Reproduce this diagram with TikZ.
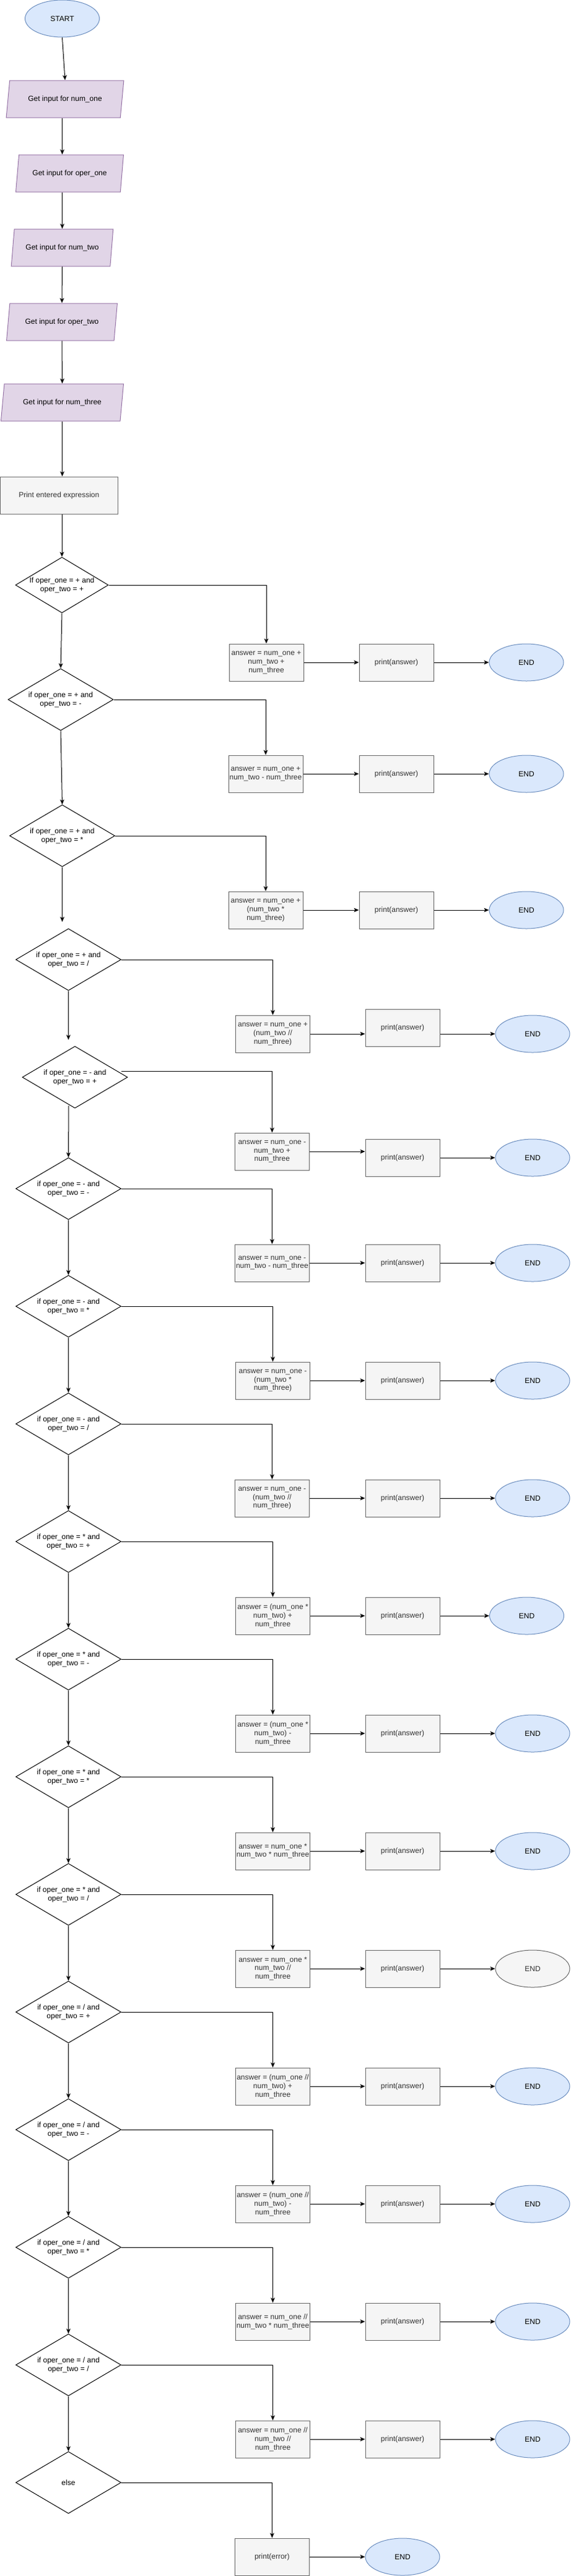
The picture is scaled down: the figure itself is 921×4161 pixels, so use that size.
\documentclass[tikz,border=0pt]{standalone}
\usepackage{fontspec}
\setmainfont{Liberation Sans}
\usetikzlibrary{shapes.geometric,arrows.meta}
\definecolor{bluefill}{HTML}{DAE8FC}
\definecolor{bluedraw}{HTML}{6C8EBF}
\definecolor{purpfill}{HTML}{E1D5E7}
\definecolor{purpdraw}{HTML}{9673A6}
\definecolor{greyfill}{HTML}{F5F5F5}
\definecolor{greydraw}{HTML}{666666}
\definecolor{greytext}{HTML}{333333}
\begin{document}
\begin{tikzpicture}[x=0.75pt,y=-0.75pt,line width=0.75pt,
  every node/.style={font=\fontsize{9}{10.4}\selectfont,align=center,inner sep=0pt},
  term/.style={ellipse,draw=bluedraw,fill=bluefill,minimum width=90pt,minimum height=45pt},
  termgrey/.style={ellipse,draw=greydraw,fill=greyfill,text=greytext,minimum width=90pt,minimum height=45pt},
  io/.style={trapezium,trapezium left angle=71.57,trapezium right angle=108.43,trapezium stretches=true,draw=purpdraw,fill=purpfill,minimum height=45pt},
  proc/.style={rectangle,draw=greydraw,fill=greyfill,text=greytext,minimum width=90pt,minimum height=45pt},
  dec/.style={diamond,draw=black,fill=white,aspect=1.7,minimum width=127.5pt,minimum height=75pt},
  arr/.style={draw=black,-{Stealth[length=6pt,width=5pt,inset=1.5pt]}}
]
\useasboundingbox (0,0) rectangle (921,4161);

% top sequence
\node[term] (start) at (100.5,30) {START};
\node[io,minimum width=142.5pt] (in1) at (105,160) {Get input for num\_one};
\node[io,minimum width=131.25pt] (in2) at (112.5,280) {Get input for oper\_one};
\node[io,minimum width=123.75pt] (in3) at (100.5,400) {Get input for num\_two};
\node[io,minimum width=135pt] (in4) at (100,520) {Get input for oper\_two};
\node[io,minimum width=149.25pt] (in5) at (100.5,650) {Get input for num\_three};
\node[proc,minimum width=142.5pt] (pe) at (95.3,800) {Print entered expression};

% decisions
\node[dec,minimum width=112.5pt,minimum height=67.5pt] (d1) at (100,945) {If oper\_one = + and\\oper\_two = +};
\node[dec] (d2) at (98,1130) {if oper\_one = + and\\oper\_two = -};
\node[dec] (d3) at (100.5,1350) {if oper\_one = + and\\oper\_two = *};
\node[dec] (d4) at (110.5,1550) {if oper\_one = + and\\oper\_two = /};
\node[dec] (d5) at (121,1740) {if oper\_one = - and\\oper\_two = +};
\node[dec] (d6) at (110.5,1920) {if oper\_one = - and\\oper\_two = -};
\node[dec] (d7) at (110.5,2110) {if oper\_one = - and\\oper\_two = *};
\node[dec] (d8) at (110.5,2300) {if oper\_one = - and\\oper\_two = /};
\node[dec] (d9) at (110.5,2490) {if oper\_one = * and\\oper\_two = +};
\node[dec] (d10) at (110.5,2680) {if oper\_one = * and\\oper\_two = -};
\node[dec] (d11) at (110.5,2870) {if oper\_one = * and\\oper\_two = *};
\node[dec] (d12) at (110.5,3060) {if oper\_one = * and\\oper\_two = /};
\node[dec] (d13) at (110.5,3250) {if oper\_one = / and\\oper\_two = +};
\node[dec] (d14) at (110.5,3440) {if oper\_one = / and\\oper\_two = -};
\node[dec] (d15) at (110.5,3630) {if oper\_one = / and\\oper\_two = *};
\node[dec] (d16) at (110.5,3820) {if oper\_one = / and\\oper\_two = /};
\node[dec] (d17) at (110.5,4010) {else};

% answer boxes
\node[proc] (a1) at (430,1070) {answer = num\_one +\\num\_two +\\num\_three};
\node[proc] (a2) at (429,1250) {answer = num\_one +\\num\_two - num\_three};
\node[proc] (a3) at (429,1470) {answer = num\_one +\\(num\_two *\\num\_three)};
\node[proc] (a4) at (440.5,1670) {answer = num\_one +\\(num\_two //\\num\_three)};
\node[proc] (a5) at (439.4,1860) {answer = num\_one -\\num\_two +\\num\_three};
\node[proc] (a6) at (439.4,2040) {answer = num\_one -\\num\_two - num\_three};
\node[proc] (a7) at (440.5,2230) {answer = num\_one -\\(num\_two *\\num\_three)};
\node[proc] (a8) at (439.4,2420) {answer = num\_one -\\(num\_two //\\num\_three)};
\node[proc] (a9) at (440.5,2610) {answer = (num\_one *\\num\_two) +\\num\_three};
\node[proc] (a10) at (440.5,2800) {answer = (num\_one *\\num\_two) -\\num\_three};
\node[proc] (a11) at (440.5,2990) {answer = num\_one *\\num\_two * num\_three};
\node[proc] (a12) at (440.5,3180) {answer = num\_one *\\num\_two //\\num\_three};
\node[proc] (a13) at (440.5,3370) {answer = (num\_one //\\num\_two) +\\num\_three};
\node[proc] (a14) at (440.5,3560) {answer = (num\_one //\\num\_two) -\\num\_three};
\node[proc] (a15) at (440.5,3750) {answer = num\_one //\\num\_two * num\_three};
\node[proc] (a16) at (440.5,3940) {answer = num\_one //\\num\_two //\\num\_three};
\node[proc] (err) at (439.4,4130) {print(error)};

% print boxes
\node[proc] (p1) at (640,1070) {print(answer)};
\node[proc] (p2) at (640,1250) {print(answer)};
\node[proc] (p3) at (640,1470) {print(answer)};
\node[proc] (p4) at (650,1660) {print(answer)};
\node[proc] (p5) at (650,1870) {print(answer)};
\node[proc] (p6) at (650,2040) {print(answer)};
\node[proc] (p7) at (650,2230) {print(answer)};
\node[proc] (p8) at (650,2420) {print(answer)};
\node[proc] (p9) at (650,2610) {print(answer)};
\node[proc] (p10) at (650,2800) {print(answer)};
\node[proc] (p11) at (650,2990) {print(answer)};
\node[proc] (p12) at (650,3180) {print(answer)};
\node[proc] (p13) at (650,3370) {print(answer)};
\node[proc] (p14) at (650,3560) {print(answer)};
\node[proc] (p15) at (650,3750) {print(answer)};
\node[proc] (p16) at (650,3940) {print(answer)};

% END terminals
\node[term] (e1) at (850,1070) {END};
\node[term] (e2) at (850,1250) {END};
\node[term] (e3) at (850,1470) {END};
\node[term] (e4) at (860,1670) {END};
\node[term] (e5) at (860,1870) {END};
\node[term] (e6) at (860,2040) {END};
\node[term] (e7) at (860,2230) {END};
\node[term] (e8) at (860,2420) {END};
\node[term] (e9) at (850.5,2610) {END};
\node[term] (e10) at (860,2800) {END};
\node[term] (e11) at (860,2990) {END};
\node[termgrey] (e12) at (860,3180) {END};
\node[term] (e13) at (860,3370) {END};
\node[term] (e14) at (860,3560) {END};
\node[term] (e15) at (860,3750) {END};
\node[term] (e16) at (860,3940) {END};
\node[term] (efin) at (650,4130) {END};

% free ends
\coordinate (c3) at (100.5,1489);
\coordinate (c4) at (110.5,1679.5);
\coordinate (c5) at (111,1786);

% top connectors
\draw[arr] (start.south) -- (in1.north);
\draw[arr] (start.south |- in1.south) -- (start.south |- in2.north);
\draw[arr] (start.south |- in2.south) -- (start.south |- in3.north);
\draw[arr] (in3.south) -- (in4.north);
\draw[arr] (in4.south) -- (in5.north);
\draw[arr] (in5.south) -- (in5.south |- pe.north);
\draw[arr] (d1.north |- pe.south) -- (d1.north);

% decision chain
\draw[arr] (d1.south) -- (d2.north);
\draw[arr] (d2.south) -- (d3.north);
\draw[arr] (d3.south) -- (c3);
\draw[arr] (d4.south) -- (c4);
\draw[arr] (c5) -- (d6.north);
\draw[arr] (d6.south) -- (d7.north);
\draw[arr] (d7.south) -- (d8.north);
\draw[arr] (d8.south) -- (d9.north);
\draw[arr] (d9.south) -- (d10.north);
\draw[arr] (d10.south) -- (d11.north);
\draw[arr] (d11.south) -- (d12.north);
\draw[arr] (d12.south) -- (d13.north);
\draw[arr] (d13.south) -- (d14.north);
\draw[arr] (d14.south) -- (d15.north);
\draw[arr] (d15.south) -- (d16.north);
\draw[arr] (d16.south) -- (d17.north);

% branches
\draw[arr] (d1.east) -| (a1.north);
\draw[arr] (d2.east) -| (a2.north);
\draw[arr] (d3.east) -| (a3.north);
\draw[arr] (d4.east) -| (a4.north);
\draw[arr] ([xshift=-8pt,yshift=7.5pt]d5.east) -| (a5.north);
\draw[arr] (d6.east) -| (a6.north);
\draw[arr] (d7.east) -| (a7.north);
\draw[arr] (d8.east) -| (a8.north);
\draw[arr] (d9.east) -| (a9.north);
\draw[arr] (d10.east) -| (a10.north);
\draw[arr] (d11.east) -| (a11.north);
\draw[arr] (d12.east) -| (a12.north);
\draw[arr] (d13.east) -| (a13.north);
\draw[arr] (d14.east) -| (a14.north);
\draw[arr] (d15.east) -| (a15.north);
\draw[arr] (d16.east) -| (a16.north);
\draw[arr] (d17.east) -| (err.north);

% rows
\draw[arr] (a1.east) -- (p1.west);
\draw[arr] (p1.east) -- (e1.west);
\draw[arr] (a2.east) -- (p2.west);
\draw[arr] (p2.east) -- (e2.west);
\draw[arr] (a3.east) -- (p3.west);
\draw[arr] (p3.east) -- (e3.west);
\draw[arr] (a4.east) -- (a4.east -| p4.west);
\draw[arr] (p4.east |- e4.west) -- (e4.west);
\draw[arr] (a5.east) -- (a5.east -| p5.west);
\draw[arr] (p5.east) -- (e5.west);
\draw[arr] (a6.east) -- (p6.west);
\draw[arr] (p6.east) -- (e6.west);
\draw[arr] (a7.east) -- (p7.west);
\draw[arr] (p7.east) -- (e7.west);
\draw[arr] (a8.east) -- (p8.west);
\draw[arr] (p8.east) -- (e8.west);
\draw[arr] (a9.east) -- (p9.west);
\draw[arr] (p9.east) -- (e9.west);
\draw[arr] (a10.east) -- (p10.west);
\draw[arr] (p10.east) -- (e10.west);
\draw[arr] (a11.east) -- (p11.west);
\draw[arr] (p11.east) -- (e11.west);
\draw[arr] (a12.east) -- (p12.west);
\draw[arr] (p12.east) -- (e12.west);
\draw[arr] (a13.east) -- (p13.west);
\draw[arr] (p13.east) -- (e13.west);
\draw[arr] (a14.east) -- (p14.west);
\draw[arr] (p14.east) -- (e14.west);
\draw[arr] (a15.east) -- (p15.west);
\draw[arr] (p15.east) -- (e15.west);
\draw[arr] (a16.east) -- (p16.west);
\draw[arr] (p16.east) -- (e16.west);
\draw[arr] (err.east) -- (efin.west);
\end{tikzpicture}
\end{document}
